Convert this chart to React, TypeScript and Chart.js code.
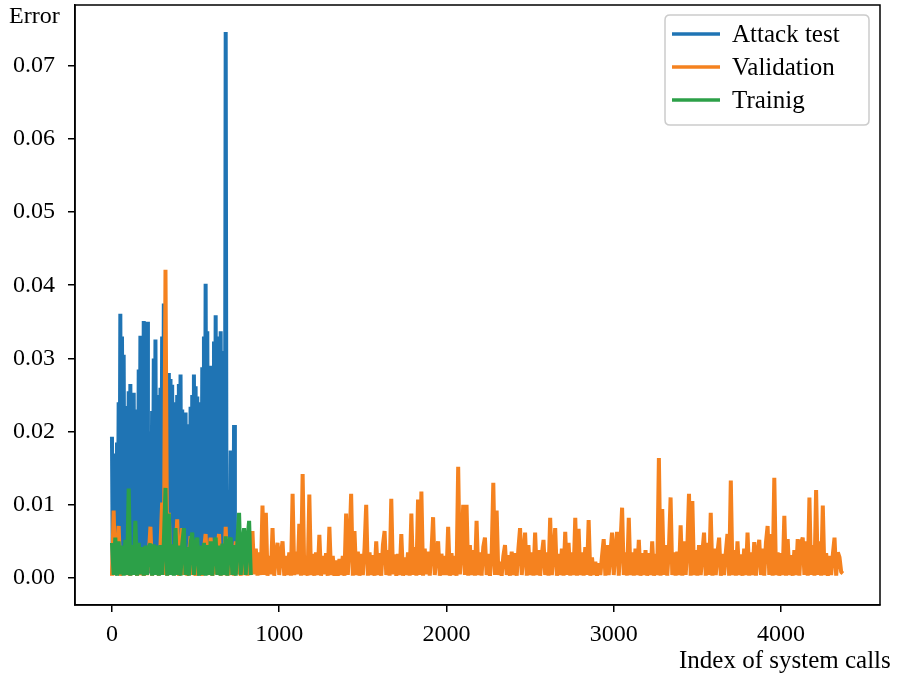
import React, { useEffect, useRef } from 'react';
import { Chart, registerables } from 'chart.js';
Chart.register(...registerables);

const X_TICKS = [0, 1000, 2000, 3000, 4000];
const Y_TICKS = [0, 0.01, 0.02, 0.03, 0.04, 0.05, 0.06, 0.07];
const SERIES_LABELS = ['Attack test', 'Validation', 'Trainig'];
const X_TITLE = 'Index of system calls';
const Y_TITLE = 'Error';

// index spacing of the sampled points
const ATTACK_STEP = 5;
const VALIDATION_STEP = 10;
const TRAINING_STEP = 10;

// error values in units of 1e-4
const attackValues = [
  193, 8, 170, 12, 165, 6, 185, 10, 240, 9, 361, 14, 330, 7, 305, 11, 210, 6, 235, 13,
  255, 8, 265, 10, 240, 7, 253, 12, 230, 9, 226, 6, 285, 11, 331, 8, 320, 13, 351, 7,
  340, 10, 350, 9, 142, 6, 200, 12, 228, 8, 300, 11, 326, 7, 250, 10, 226, 9, 260, 13,
  330, 6, 375, 10, 290, 8, 275, 12, 280, 7, 272, 9, 264, 11, 240, 6, 226, 10, 250, 8,
  265, 13, 278, 7, 230, 9, 215, 11, 226, 6, 210, 10, 193, 8, 234, 12, 250, 7, 278, 9,
  262, 11, 248, 6, 240, 10, 237, 8, 288, 13, 330, 7, 402, 9, 337, 11, 290, 6, 264, 10,
  290, 8, 323, 12, 359, 7, 330, 9, 315, 11, 337, 6, 294, 10, 310, 8, 746, 12, 120, 7,
  85, 9, 174, 11, 160, 6, 209, 10, 8,
];

const validationValues = [
  3, 92, 4, 30, 71, 3, 30, 5, 32, 4,
  34, 3, 45, 5, 31, 3, 38, 4, 33, 3,
  33, 4, 30, 70, 3, 40, 5, 35, 3, 44,
  103, 4, 421, 3, 89, 5, 30, 4, 32, 80,
  3, 33, 68, 4, 35, 3, 31, 57, 4, 30,
  3, 42, 4, 34, 3, 38, 60, 4, 30, 55,
  3, 33, 5, 36, 60, 3, 40, 4, 70, 3,
  45, 4, 36, 3, 50, 5, 34, 3, 42, 4,
  35, 3, 38, 4, 64, 5, 40, 3, 35, 4,
  99, 4, 89, 3, 30, 5, 68, 3, 31, 48,
  4, 33, 50, 3, 30, 4, 35, 3, 115, 4,
  36, 5, 74, 3, 142, 4, 30, 3, 114, 4,
  33, 3, 35, 4, 59, 3, 30, 5, 34, 3,
  70, 4, 30, 3, 24, 3, 26, 4, 30, 3,
  88, 4, 45, 115, 3, 64, 4, 36, 3, 33,
  4, 40, 100, 3, 35, 4, 31, 3, 50, 4,
  34, 3, 45, 64, 4, 38, 3, 108, 5, 32,
  3, 33, 4, 60, 3, 28, 4, 35, 3, 88,
  4, 42, 3, 107, 4, 118, 3, 40, 5, 36,
  3, 35, 83, 4, 32, 50, 3, 33, 4, 30,
  4, 70, 3, 34, 4, 30, 3, 152, 5, 35,
  100, 4, 100, 3, 45, 4, 38, 3, 78, 4,
  35, 3, 42, 55, 4, 33, 3, 31, 130, 4,
  92, 4, 22, 3, 30, 45, 4, 31, 3, 36,
  4, 34, 3, 40, 68, 4, 33, 62, 3, 45,
  4, 35, 3, 62, 4, 38, 3, 32, 52, 4,
  35, 3, 82, 4, 34, 68, 3, 33, 4, 40,
  3, 63, 4, 48, 3, 35, 4, 82, 3, 67,
  4, 35, 3, 42, 4, 79, 3, 28, 4, 22,
  3, 20, 4, 30, 53, 3, 45, 4, 34, 62,
  4, 38, 63, 3, 45, 96, 4, 35, 3, 82,
  4, 35, 3, 40, 4, 52, 3, 34, 4, 38,
  3, 34, 4, 50, 3, 33, 4, 164, 3, 94,
  4, 45, 3, 40, 110, 4, 35, 3, 36, 4,
  72, 3, 50, 4, 42, 115, 3, 105, 4, 38,
  3, 45, 4, 35, 62, 3, 48, 4, 89, 3,
  40, 4, 34, 55, 3, 33, 4, 35, 60, 3,
  133, 4, 38, 3, 50, 4, 32, 3, 40, 4,
  62, 3, 35, 4, 49, 3, 35, 52, 4, 40,
  3, 48, 71, 4, 60, 3, 137, 4, 35, 3,
  34, 4, 85, 3, 53, 4, 31, 3, 38, 4,
  53, 3, 48, 55, 4, 50, 3, 110, 4, 45,
  3, 120, 4, 50, 3, 99, 4, 34, 3, 30,
  4, 32, 55, 3, 35, 28, 8, 6,
];

const trainingValues = [
  48, 4, 55, 3, 50, 5, 44, 3, 52, 4,
  122, 3, 45, 4, 78, 3, 48, 5, 42, 3,
  44, 4, 42, 47, 3, 46, 4, 44, 3, 45,
  4, 48, 123, 3, 88, 4, 46, 3, 68, 4,
  44, 3, 46, 68, 4, 42, 3, 48, 62, 4,
  45, 55, 3, 44, 4, 48, 3, 45, 4, 50,
  3, 45, 55, 4, 44, 3, 47, 4, 57, 3,
  50, 55, 4, 45, 3, 50, 89, 4, 46, 68,
  4, 52, 78, 4,
];

const BLUE = '#1f74b4';
const ORANGE = '#f5821f';
const GREEN = '#2ca048';
const FONT_FAMILY = "'Liberation Serif', 'Times New Roman', serif";

const toPoints = (vals: number[], step: number) =>
  vals.map((v, i) => ({ x: i * step, y: v / 10000 }));

export default function App() {
  const ref = useRef<HTMLCanvasElement>(null);

  useEffect(() => {
    document.body.style.margin = '0';
    const canvas = ref.current;
    if (!canvas) return;

    const decor = {
      id: 'decor',
      afterDraw(chart: any) {
        const ctx = chart.ctx;
        const a = chart.chartArea;
        ctx.save();
        // frame
        ctx.strokeStyle = '#000';
        ctx.lineWidth = 1.5;
        ctx.strokeRect(a.left, a.top, a.right - a.left, a.bottom - a.top);
        // axis titles
        ctx.fillStyle = '#000';
        ctx.font = `24px ${FONT_FAMILY}`;
        ctx.textBaseline = 'alphabetic';
        ctx.textAlign = 'left';
        ctx.fillText(Y_TITLE, 9, 23);
        ctx.font = `25px ${FONT_FAMILY}`;
        ctx.fillText(X_TITLE, 679, 668);
        // legend
        const lx = 665, ly = 15, lw = 204, lh = 110, r = 5;
        ctx.beginPath();
        ctx.moveTo(lx + r, ly);
        ctx.lineTo(lx + lw - r, ly);
        ctx.quadraticCurveTo(lx + lw, ly, lx + lw, ly + r);
        ctx.lineTo(lx + lw, ly + lh - r);
        ctx.quadraticCurveTo(lx + lw, ly + lh, lx + lw - r, ly + lh);
        ctx.lineTo(lx + r, ly + lh);
        ctx.quadraticCurveTo(lx, ly + lh, lx, ly + lh - r);
        ctx.lineTo(lx, ly + r);
        ctx.quadraticCurveTo(lx, ly, lx + r, ly);
        ctx.closePath();
        ctx.fillStyle = 'rgba(255,255,255,0.85)';
        ctx.fill();
        ctx.strokeStyle = '#cccccc';
        ctx.lineWidth = 1.5;
        ctx.stroke();
        const colors = [BLUE, ORANGE, GREEN];
        const rowsY = [34, 67, 100];
        ctx.textBaseline = 'middle';
        ctx.font = `25px ${FONT_FAMILY}`;
        SERIES_LABELS.forEach((lab, i) => {
          ctx.strokeStyle = colors[i];
          ctx.lineWidth = 3.5;
          ctx.beginPath();
          ctx.moveTo(672, rowsY[i]);
          ctx.lineTo(720, rowsY[i]);
          ctx.stroke();
          ctx.fillStyle = '#000';
          ctx.fillText(lab, 732, rowsY[i] + 1);
        });
        ctx.restore();
      },
    };

    const zeroPad = (s: any) => {
      s.paddingTop = 0;
      s.paddingBottom = 0;
      s.paddingLeft = 0;
      s.paddingRight = 0;
    };

    const tickFont = { family: FONT_FAMILY, size: 24 };
    const lineCommon = { borderWidth: 4, pointRadius: 0, borderJoinStyle: 'bevel' as const };
    const chart = new Chart(canvas, {
      type: 'line',
      data: {
        datasets: [
          {
            label: SERIES_LABELS[0],
            data: toPoints(attackValues, ATTACK_STEP),
            borderColor: BLUE,
            backgroundColor: BLUE,
            order: 3,
            ...lineCommon,
          },
          {
            label: SERIES_LABELS[1],
            data: toPoints(validationValues, VALIDATION_STEP),
            borderColor: ORANGE,
            backgroundColor: ORANGE,
            order: 2,
            ...lineCommon,
          },
          {
            label: SERIES_LABELS[2],
            data: toPoints(trainingValues, TRAINING_STEP),
            borderColor: GREEN,
            backgroundColor: GREEN,
            order: 1,
            ...lineCommon,
          },
        ],
      },
      options: {
        animation: false,
        responsive: false,
        layout: { padding: { top: 5, right: 17, left: 0, bottom: 0 } },
        plugins: { legend: { display: false }, tooltip: { enabled: false } },
        scales: {
          x: {
            type: 'linear',
            min: -221,
            max: 4592,
            afterFit: (s: any) => { s.height = 75; zeroPad(s); },
            afterBuildTicks: (s: any) => { s.ticks = X_TICKS.map((v) => ({ value: v })); },
            ticks: {
              font: tickFont,
              color: '#000',
              padding: 8,
              maxRotation: 0,
              autoSkip: false,
              callback: (v: any) => String(v),
            },
            grid: { display: true, drawOnChartArea: false, drawTicks: true, tickLength: 7, color: '#000', lineWidth: 1.5 },
            border: { display: true, color: '#000', width: 1.5 },
          },
          y: {
            type: 'linear',
            min: -0.0037,
            max: 0.0783,
            afterFit: (s: any) => { s.width = 75; zeroPad(s); },
            afterBuildTicks: (s: any) => { s.ticks = Y_TICKS.map((v) => ({ value: v })); },
            ticks: {
              font: tickFont,
              color: '#000',
              padding: 13,
              autoSkip: false,
              callback: (v: any) => Number(v).toFixed(2),
            },
            grid: { display: true, drawOnChartArea: false, drawTicks: true, tickLength: 7, color: '#000', lineWidth: 1.5 },
            border: { display: true, color: '#000', width: 1.5 },
          },
        },
      },
      plugins: [decor],
    });
    return () => chart.destroy();
  }, []);

  return <canvas ref={ref} width={897} height={680} style={{ display: 'block' }} />;
}
